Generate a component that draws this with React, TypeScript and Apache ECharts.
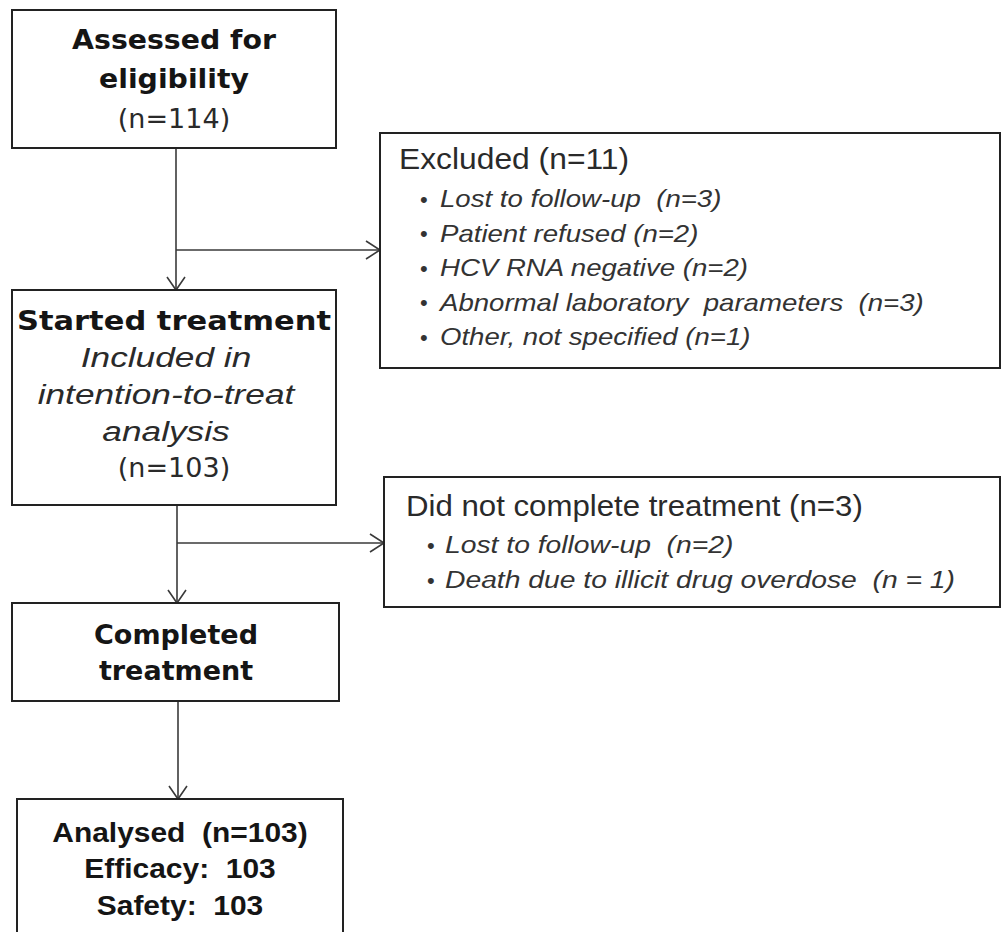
import React, { useEffect, useRef } from "react";
import * as echarts from "echarts";

// ---- Data (texts of the flow diagram) ----
const assessedTitle = ["Assessed for", "eligibility"];
const assessedCount = "(n=114)";
const startedTitle = "Started treatment";
const startedItalic = ["Included in", "intention-to-treat", "analysis"];
const startedCount = "(n=103)";
const completedTitle = ["Completed", "treatment"];
const analysedLines = ["Analysed  (n=103)", "Efficacy:  103", "Safety:  103"];
const excludedTitle = "Excluded (n=11)";
const excludedItems = [
  "Lost to follow-up  (n=3)",
  "Patient refused (n=2)",
  "HCV RNA negative (n=2)",
  "Abnormal laboratory  parameters  (n=3)",
  "Other, not specified (n=1)",
];
const notCompletedTitle = "Did not complete treatment (n=3)";
const notCompletedItems = ["Lost to follow-up  (n=2)", "Death due to illicit drug overdose  (n = 1)"];

const TAHOMA = '"DejaVu Sans", Verdana, sans-serif';
const ARIAL = '"Liberation Sans", Arial, sans-serif';
const BOX = "#222";
const LINE = "#3a3a3a";

function rect(x: number, y: number, w: number, h: number) {
  return {
    type: "rect",
    shape: { x, y, width: w, height: h },
    style: { fill: "#fff", stroke: BOX, lineWidth: 2 },
  };
}

function text(
  t: string,
  x: number,
  y: number,
  opts: {
    size: number;
    family: string;
    weight?: string;
    italic?: boolean;
    align?: string;
    fill?: string;
    sx?: number;
  }
) {
  return {
    type: "text",
    x,
    y,
    scaleX: opts.sx || 1,
    style: {
      text: t,
      fontSize: opts.size,
      fontFamily: opts.family,
      fontWeight: opts.weight || "normal",
      fontStyle: opts.italic ? "italic" : "normal",
      fill: opts.fill || "#151515",
      align: opts.align || "center",
      verticalAlign: "middle",
    },
  };
}

function vArrow(x: number, y1: number, y2: number) {
  return [
    { type: "line", shape: { x1: x, y1, x2: x, y2 }, style: { stroke: LINE, lineWidth: 1.6 } },
    {
      type: "polyline",
      shape: { points: [[x - 9, y2 - 13], [x, y2], [x + 9, y2 - 13]] },
      style: { stroke: LINE, lineWidth: 1.6, fill: "none" },
    },
  ];
}

function hArrow(x1: number, x2: number, y: number) {
  return [
    { type: "line", shape: { x1, y1: y, x2, y2: y }, style: { stroke: LINE, lineWidth: 1.6 } },
    {
      type: "polyline",
      shape: { points: [[x2 - 14, y - 9], [x2, y], [x2 - 14, y + 9]] },
      style: { stroke: LINE, lineWidth: 1.6, fill: "none" },
    },
  ];
}

export default function App() {
  const ref = useRef<HTMLDivElement>(null);
  useEffect(() => {
    if (!ref.current) return;
    const chart = echarts.init(ref.current, undefined, { renderer: "svg" });
    const els: any[] = [];

    // connectors
    els.push(...vArrow(176, 148, 290));
    els.push(...hArrow(176, 380, 250));
    els.push(...vArrow(177, 505, 603));
    els.push(...hArrow(177, 384, 543));
    els.push(...vArrow(178, 701, 799));

    // Box 1
    els.push(rect(12, 10, 324, 138));
    const c1 = 174;
    els.push(text(assessedTitle[0], c1, 40, { size: 27, family: TAHOMA, weight: "bold", sx: 1.05 }));
    els.push(text(assessedTitle[1], c1, 79, { size: 27, family: TAHOMA, weight: "bold", sx: 1.05 }));
    els.push(text(assessedCount, c1, 118, { size: 27, family: TAHOMA, fill: "#2a2a2a" }));

    // Box 2
    els.push(rect(12, 290, 324, 215));
    els.push(text(startedTitle, c1, 321, { size: 27, family: TAHOMA, weight: "bold", sx: 1.13 }));
    startedItalic.forEach((t, i) =>
      els.push(
        text(t, 166, 357 + i * 37, { size: 28, family: ARIAL, italic: true, fill: "#2a2a2a", sx: 1.26 })
      )
    );
    els.push(text(startedCount, c1, 467, { size: 27, family: TAHOMA, fill: "#2a2a2a" }));

    // Box 3
    els.push(rect(12, 603, 327, 98));
    els.push(text(completedTitle[0], 176, 634, { size: 27, family: TAHOMA, weight: "bold" }));
    els.push(text(completedTitle[1], 176, 670, { size: 27, family: TAHOMA, weight: "bold" }));

    // Box 4
    els.push(rect(17, 799, 326, 150));
    analysedLines.forEach((t, i) =>
      els.push(text(t, 180, 832 + i * 36.5, { size: 28, family: ARIAL, weight: "bold", sx: 1.07 }))
    );

    // Excluded box
    els.push(rect(380, 133, 620, 235));
    els.push(
      text(excludedTitle, 399, 159, { size: 30, family: ARIAL, align: "left", fill: "#2a2a2a", sx: 1.06 })
    );
    excludedItems.forEach((t, i) => {
      const y = 199 + i * 34.5;
      els.push(text("•", 420, y, { size: 22, family: ARIAL, align: "left", fill: "#333" }));
      els.push(
        text(t, 440, y, { size: 23, family: ARIAL, italic: true, align: "left", fill: "#333", sx: 1.2 })
      );
    });

    // Did not complete box
    els.push(rect(384, 477, 616, 130));
    els.push(
      text(notCompletedTitle, 406, 505, { size: 30, family: ARIAL, align: "left", fill: "#2a2a2a", sx: 1.04 })
    );
    notCompletedItems.forEach((t, i) => {
      const y = 545 + i * 35;
      els.push(text("•", 427, y, { size: 22, family: ARIAL, align: "left", fill: "#333" }));
      els.push(
        text(t, 445, y, { size: 23, family: ARIAL, italic: true, align: "left", fill: "#333", sx: 1.23 })
      );
    });

    chart.setOption({
      animation: false,
      backgroundColor: "#fff",
      graphic: { elements: els },
    });
    return () => chart.dispose();
  }, []);
  return (
    <div
      ref={ref}
      style={{ position: "fixed", left: 0, top: 0, width: 1001, height: 932, background: "#fff" }}
    />
  );
}
